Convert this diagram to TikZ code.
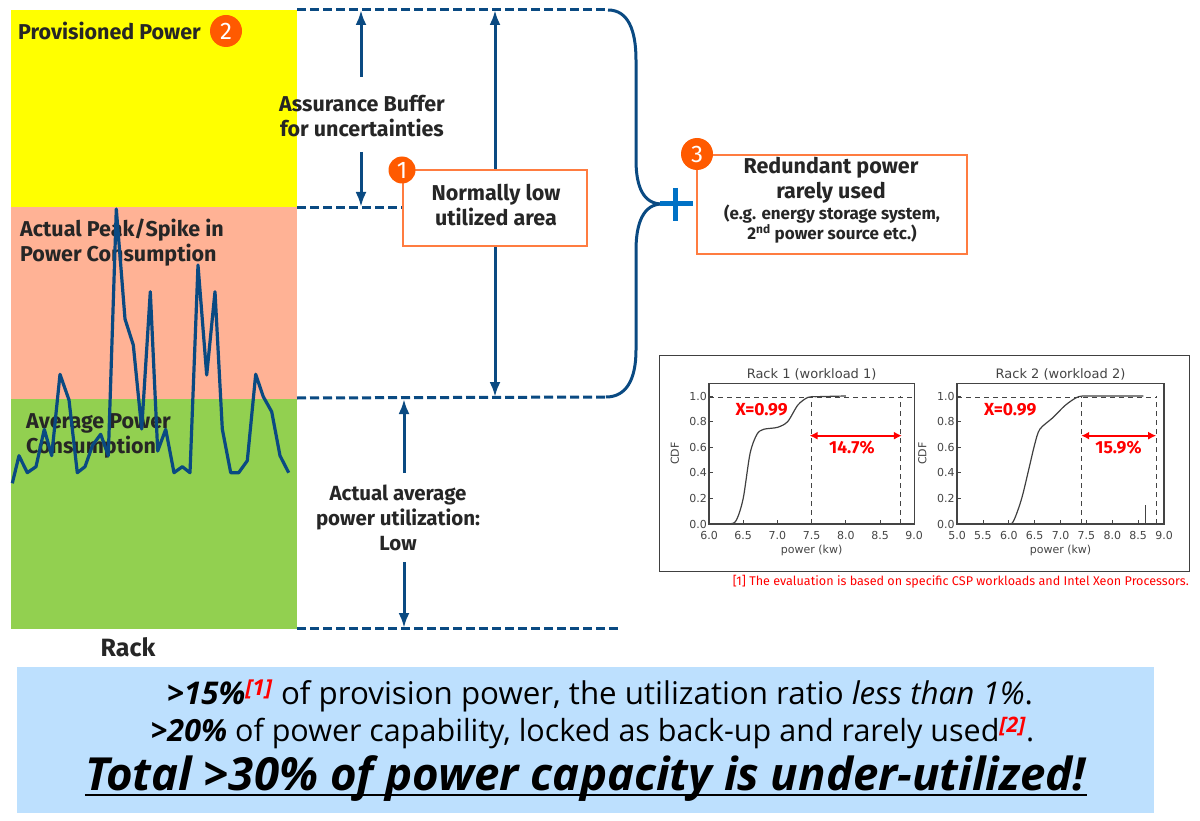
\documentclass[tikz,border=0pt]{standalone}
\usepackage{fontspec}
\setmainfont{Fira Sans}
\newfontfamily\bannerfont{Open Sans}
\newfontfamily\chartfont{DejaVu Sans}
\usetikzlibrary{positioning}
\usetikzlibrary{arrows.meta}

\definecolor{linkblue}{HTML}{0A4A82}
\definecolor{plusblue}{HTML}{0071C5}
\definecolor{boxorange}{HTML}{FF7C40}
\definecolor{badgeorange}{HTML}{FF5A00}
\definecolor{provyellow}{HTML}{FFFF00}
\definecolor{peakred}{HTML}{FFB295}
\definecolor{avggreen}{HTML}{92D050}
\definecolor{bannerblue}{HTML}{BDE0FE}
\definecolor{axisgray}{HTML}{444444}

\begin{document}
\begin{tikzpicture}[
    x=1pt, y=-1pt,
    >={Latex[length=15pt,width=11pt]},
    linkline/.style={draw=linkblue, line width=3pt},
    dashline/.style={draw=linkblue, line width=3pt, dash pattern=on 9pt off 4pt},
    labeltext/.style={font=\fontsize{21.5}{25}\selectfont\bfseries, text=black!85, align=center, inner sep=0pt},
    orangebox/.style={draw=boxorange, line width=1.6pt, fill=white, inner sep=0pt, align=center},
    badge/.style={circle, fill=badgeorange, text=white, inner sep=0pt, font=\fontsize{24}{24}\selectfont},
    ticklabel/.style={font=\chartfont\fontsize{11}{12}\selectfont, text=axisgray, inner sep=0pt},
    charttitle/.style={font=\chartfont\fontsize{13}{14}\selectfont, text=axisgray, inner sep=0pt},
    redtext/.style={font=\fontsize{17.5}{18}\selectfont\bfseries, text=red, inner sep=0pt},
    bannerline/.style={font=\bannerfont\fontsize{30.5}{34}\selectfont, inner sep=0pt},
    chartdash/.style={draw=axisgray, line width=1.1pt, dash pattern=on 5pt off 4pt},
    redspan/.style={draw=red, line width=2pt, {Latex[length=8pt,width=8pt]}-{Latex[length=8pt,width=8pt]}},
]
    \useasboundingbox (0, 0) rectangle (1200, 821);

    % Rack
    \fill [provyellow] (11, 10) rectangle (297, 207);
    \fill [peakred] (11, 207) rectangle (297, 399);
    \fill [avggreen] (11, 399) rectangle (297, 629);
    \node (provisioned_title) at (18, 31) [labeltext, anchor=west] {Provisioned Power};
    \node (provisioned_badge) at (226, 31) [badge, minimum size=32pt] {2};
    \node (peak_title) at (20, 243) [labeltext, anchor=west, align=left] {Actual Peak/Spike in\\Power Consumption};
    \node (average_title) at (26, 436) [labeltext, anchor=west, align=left] {Average Power\\Consumption};
    \node (rack_title) at (128, 647) [labeltext, font=\fontsize{25}{28}\selectfont\bfseries] {Rack};

    % Power trace
    \draw [draw=linkblue, line width=3.2pt, line join=round]
        (12.3,483.3) -- (19,455.7) -- (27.3,472.7) -- (36,466.7) -- (44.3,429.3) -- (51.7,455.7)
        -- (60,374.3) -- (69,400) -- (77.3,472.7) -- (85,466.7) -- (92.7,445) -- (100.7,434.3)
        -- (108.3,455.7) -- (116.3,209) -- (125,319) -- (133.3,345) -- (141.7,429) -- (150.3,291.7)
        -- (157.7,451) -- (165.7,429.3) -- (174,472.7) -- (182.3,466.7) -- (190,472.7) -- (198,265)
        -- (206.7,375) -- (215,291.7) -- (222.3,429) -- (230.7,472.7) -- (238.7,472.7) -- (247.3,460.7)
        -- (255.7,374.3) -- (263.3,396.7) -- (271.7,411.7) -- (280,455.7) -- (288.7,472.7);

    % Anchors of the connectors
    \coordinate (top_left) at (297, 10);
    \coordinate (top_bend) at (608, 10);
    \coordinate (buffer_left) at (297, 208);
    \coordinate (average_left) at (297, 398);
    \coordinate (average_bend) at (606, 397);
    \coordinate (floor_left) at (297, 628);
    \coordinate (floor_right) at (620, 628);
    \coordinate (brace_tip) at (662, 204);
    \coordinate (buffer_top) at (361, 10);
    \coordinate (buffer_up) at (361, 77);
    \coordinate (buffer_down) at (361, 152);
    \coordinate (buffer_bottom) at (361, 207);
    \coordinate (span_top) at (495, 10);
    \coordinate (span_bottom) at (495, 397);
    \coordinate (average_top) at (404, 399);
    \coordinate (average_up) at (404, 473);
    \coordinate (average_down) at (404, 562);
    \coordinate (average_bottom) at (404, 628);

    % Dashed levels and brace
    \draw [dashline] (top_left) -- (top_bend);
    \draw [dashline] (buffer_left) -- (403, 208);
    \draw [dashline] (average_left) -- (average_bend);
    \draw [dashline] (floor_left) -- (floor_right);
    \draw [linkline] (top_bend) .. controls (628, 10) and (636, 30) .. (636, 60)
        -- (636, 160) .. controls (636, 188) and (644, 204) .. (brace_tip);
    \draw [linkline] (average_bend) .. controls (626, 397) and (636, 380) .. (636, 350)
        -- (636, 250) .. controls (636, 222) and (644, 204) .. (brace_tip);

    % Arrows
    \draw [linkline, ->] (buffer_up) -- (buffer_top);
    \draw [linkline, ->] (buffer_down) -- (buffer_bottom);
    \draw [linkline, <->] (span_bottom) -- (span_top);
    \draw [linkline, ->] (average_up) -- (average_top);
    \draw [linkline, ->] (average_down) -- (average_bottom);

    % Labels
    \node (buffer_label) at (362, 116) [labeltext] {Assurance Buffer\\for uncertainties};
    \node (average_label) at (398, 518) [labeltext, font=\fontsize{20.5}{25}\selectfont\bfseries] {Actual average\\power utilization:\\Low};
    \node (low_box) at (495, 208) [orangebox, minimum width=184pt, minimum height=76pt] {};
    \node (low_title) at (496, 205) [labeltext] {Normally low\\utilized area};
    \node (low_badge) at (402, 170) [badge, minimum size=27pt] {1};

    % Redundant power
    \node (redundant_box) at (832, 204.5) [orangebox, minimum width=270pt, minimum height=99pt] {};
    \node (redundant_title) at (831, 180) [labeltext] {Redundant power\\rarely used};
    \node (redundant_note) at (832, 224) [labeltext, font=\fontsize{17}{19}\selectfont\bfseries] {(e.g. energy storage system,\\2\textsuperscript{nd} power source etc.)};
    \node (redundant_badge) at (697, 154) [badge, minimum size=32pt] {3};
    \draw [draw=plusblue, line width=5pt] (660, 204) -- (693, 204);
    \draw [draw=plusblue, line width=5pt] (675, 188) -- (675, 221);

    % Charts frame
    \draw [draw=black!75, line width=1pt] (659, 355) rectangle (1189, 571);

    % Rack 1
    \begin{scope}[shift={(709, 524)}, x=68.4pt, y=128pt]
        \foreach \val/\name in {0/6.0, 0.5/6.5, 1/7.0, 1.5/7.5, 2/8.0, 2.5/8.5, 3/9.0} {
            \draw [draw=axisgray, line width=0.7pt] (\val, 0) -- (\val, 0.03);
            \node (rack_one_x_\name) at (\val, -0.09) [ticklabel] {\name};
        }
        \foreach \val in {0.0, 0.2, 0.4, 0.6, 0.8, 1.0} {
            \draw [draw=axisgray, line width=0.7pt] (0, \val) -- (0.06, \val);
            \node (rack_one_y_\val) at (-0.03, \val) [ticklabel, anchor=east] {\val};
        }
        \draw [chartdash] (0, 0.99) -- (3, 0.99);
        \draw [chartdash] (1.5, 0) -- (1.5, 0.99);
        \draw [chartdash] (2.8, 0) -- (2.8, 1.0);
        \draw [draw=black!75, line width=1.2pt] plot [smooth, tension=0.5] coordinates {
            (0.1,0) (0.3,0) (0.4,0.03) (0.5,0.2) (0.6,0.55) (0.7,0.7) (0.8,0.74) (1.0,0.755)
            (1.15,0.8) (1.3,0.93) (1.45,0.99) (1.6,0.995) (2,1)};
        \draw [draw=axisgray, line width=1.2pt] (0, 0) rectangle (3, 1.1);
        \node (rack_one_title) at (1.5, 1.165) [charttitle] {Rack 1 (workload 1)};
        \node (rack_one_xlabel) at (1.5, -0.205) [ticklabel] {power (kw)};
        \node (rack_one_ylabel) at (-0.5, 0.55) [ticklabel, rotate=90] {CDF};
        \node (rack_one_x) at (0.77, 0.89) [redtext] {X=0.99};
        \coordinate (rack_one_from) at (1.47, 0.69);
        \coordinate (rack_one_to) at (2.82, 0.69);
        \draw [redspan] (rack_one_from) -- (rack_one_to);
        \node (rack_one_share) at (2.09, 0.6) [redtext] {14.7\%};
    \end{scope}

    % Rack 2
    \begin{scope}[shift={(957, 524)}, x=51.75pt, y=128pt]
        \foreach \val/\name in {0/5.0, 0.5/5.5, 1/6.0, 1.5/6.5, 2/7.0, 2.5/7.5, 3/8.0, 3.5/8.5, 4/9.0} {
            \draw [draw=axisgray, line width=0.7pt] (\val, 0) -- (\val, 0.03);
            \node (rack_two_x_\name) at (\val, -0.09) [ticklabel] {\name};
        }
        \foreach \val in {0.0, 0.2, 0.4, 0.6, 0.8, 1.0} {
            \draw [draw=axisgray, line width=0.7pt] (0, \val) -- (0.08, \val);
            \node (rack_two_y_\val) at (-0.04, \val) [ticklabel, anchor=east] {\val};
        }
        \draw [chartdash] (0, 0.99) -- (3.85, 0.99);
        \draw [chartdash] (2.4, 0) -- (2.4, 0.99);
        \draw [chartdash] (3.85, 0) -- (3.85, 1.0);
        \draw [draw=axisgray, line width=1.1pt] (3.65, 0) -- (3.65, 0.15);
        \draw [draw=black!75, line width=1.2pt] plot [smooth, tension=0.5] coordinates {
            (0.6,0) (1.0,0) (1.1,0.03) (1.25,0.2) (1.4,0.45) (1.5,0.62) (1.6,0.74) (1.85,0.83)
            (2.1,0.93) (2.35,0.995) (2.6,1) (3.6,1)};
        \draw [draw=axisgray, line width=1.2pt] (0, 0) rectangle (4, 1.1);
        \node (rack_two_title) at (2, 1.165) [charttitle] {Rack 2 (workload 2)};
        \node (rack_two_xlabel) at (2, -0.205) [ticklabel] {power (kw)};
        \node (rack_two_ylabel) at (-0.67, 0.55) [ticklabel, rotate=90] {CDF};
        \node (rack_two_x) at (1.03, 0.89) [redtext] {X=0.99};
        \coordinate (rack_two_from) at (2.4, 0.69);
        \coordinate (rack_two_to) at (3.85, 0.69);
        \draw [redspan] (rack_two_from) -- (rack_two_to);
        \node (rack_two_share) at (3.12, 0.6) [redtext] {15.9\%};
    \end{scope}
    \node (chart_note) at (1189, 582) [anchor=east, inner sep=0pt, text=red, font=\fontsize{12.6}{14}\selectfont] {[1] The evaluation is based on specific CSP workloads and Intel Xeon Processors.};

    % Banner
    \fill [bannerblue] (17, 667) rectangle (1154, 813);
    \node (banner_one) at (600, 696) [bannerline, font=\bannerfont\fontsize{31.3}{34}\selectfont] {\textbf{\textit{>15\%}}\textsuperscript{\textcolor{red}{\textbf{\textit{[1]}}}} of provision power, the utilization ratio \textit{less than 1\%}.};
    \node (banner_two) at (592.5, 733) [bannerline] {\textbf{\textit{>20\%}} of power capability, locked as back-up and rarely used\textsuperscript{\textcolor{red}{\textbf{\textit{[2]}}}}.};
    \node (banner_three) at (586, 779) [bannerline, font=\bannerfont\fontsize{45.6}{50}\selectfont] {\textbf{\textit{Total >30\% of power capacity is under-utilized!}}};
    \path (banner_three.base west) ++(0, 4) coordinate (underline_from) (banner_three.base east) ++(0, 4) coordinate (underline_to);
    \draw [line width=2.5pt] (underline_from) -- (underline_to);
\end{tikzpicture}
\end{document}
